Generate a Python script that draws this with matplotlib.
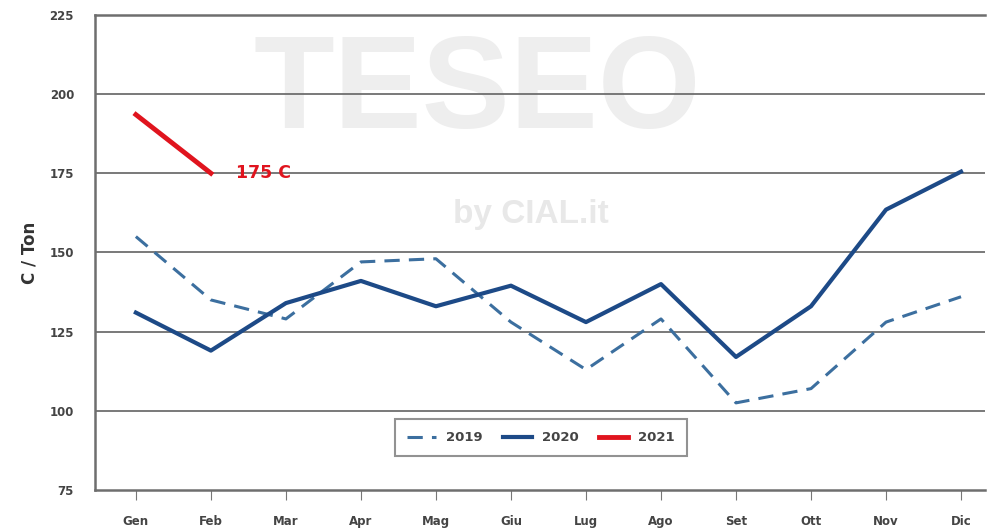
import matplotlib
matplotlib.use("Agg")
import matplotlib.pyplot as plt

months = ["Gen", "Feb", "Mar", "Apr", "Mag", "Giu", "Lug", "Ago", "Set", "Ott", "Nov", "Dic"]
y2019 = [155, 135, 129, 147, 148, 128, 113, 129, 102.5, 107, 128, 136]
y2020 = [131, 119, 134, 141, 133, 139.5, 128, 140, 117, 133, 163.5, 175.5]
y2021 = [193.5, 175]
yticks = [75, 100, 125, 150, 175, 200, 225]

fig = plt.figure(figsize=(9.88, 5.30), dpi=100)
ax = fig.add_axes([0.096, 0.0755, 0.901, 0.8965])
x = list(range(len(months)))

# watermark
ax.text(0.43, 0.762, "TESEO", transform=ax.transAxes, ha="center", va="baseline",
        fontsize=95, fontweight="bold", family="Liberation Sans", color="#eeeeee", zorder=0)
ax.text(0.49, 0.58, "by CIAL.it", transform=ax.transAxes, ha="center", va="center",
        fontsize=24, fontweight="bold", family="Liberation Sans", color="#e8e8e8", zorder=0)

for yv in yticks[1:-1]:
    ax.axhline(yv, color="#6e6e6e", lw=1.3, zorder=1)

ax.plot(x, y2019, color="#3c6f9f", lw=2.2, ls=(0, (5, 3)), label="2019", zorder=3)
ax.plot(x, y2020, color="#1d4a87", lw=3.0, label="2020", zorder=4)
ax.plot(x[:len(y2021)], y2021, color="#e0141e", lw=3.5, label="2021", zorder=5)
ax.text(x[1] + 0.33, y2021[-1], "175 C", color="#e0141e", fontsize=12.5,
        fontweight="bold", va="center", ha="left", zorder=6)

ax.set_xlim(-0.547, 11.32)
ax.set_ylim(75, 225)
ax.set_yticks(yticks)
ax.set_yticklabels([str(v) for v in yticks], fontsize=8.5, fontweight="bold", color="#444444")
ax.set_xticks(x)
ax.set_xticklabels(months, fontsize=8.5, fontweight="bold", color="#444444")
ax.tick_params(axis="y", length=0, pad=15)
ax.tick_params(axis="x", length=7, color="#777777", pad=11)
ax.set_ylabel("C / Ton", fontsize=12, fontweight="bold", color="#333333", labelpad=8)
for s in ["left", "bottom", "top"]:
    ax.spines[s].set_color("#6e6e6e")
    ax.spines[s].set_linewidth(1.8)
ax.spines["right"].set_visible(False)

leg = ax.legend(loc="center", bbox_to_anchor=(0.501, 0.11), ncol=3, frameon=True,
                fancybox=False, handlelength=2.2, columnspacing=1.5, handletextpad=0.8,
                borderpad=0.9, borderaxespad=0, prop={"weight": "bold", "size": 9.5})
leg.get_frame().set_edgecolor("#777777")
leg.get_frame().set_linewidth(1.5)
for t in leg.get_texts():
    t.set_color("#444444")

fig.savefig("out.png", dpi=100)
